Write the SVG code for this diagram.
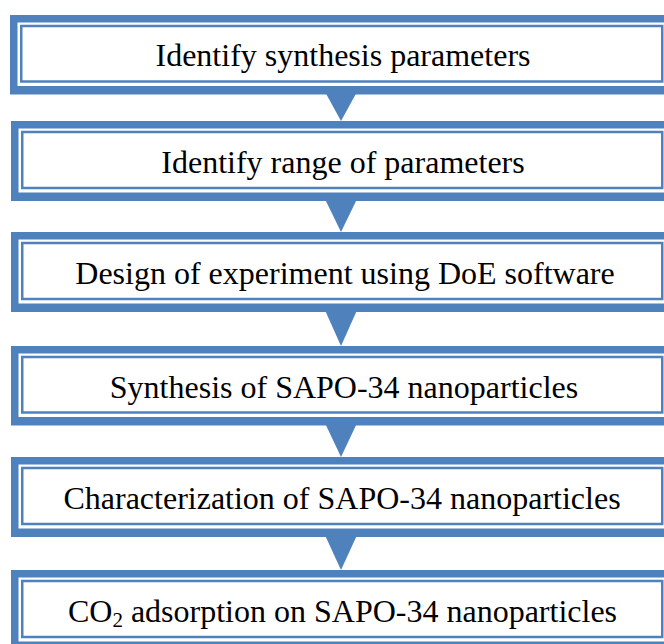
<svg xmlns="http://www.w3.org/2000/svg" width="664" height="644" viewBox="0 0 664 644">
<style>
.outer{fill:#4F81BD}
.gap{fill:#FFFFFF}
.inner{fill:#FFFFFF;stroke:#4F81BD;stroke-width:2.5}
.lbl{font-family:"Liberation Serif","Times New Roman",serif;font-size:32px;fill:#000;text-anchor:middle}
.arrow{fill:#4F81BD}
</style>
<rect width="664" height="644" fill="#FFFFFF"/>
<g id="connectors">
<polygon class="arrow" points="324,90 358,90 341,121"/>
<polygon class="arrow" points="324,197 358,197 341,232"/>
<polygon class="arrow" points="324,308 358,308 341,346"/>
<polygon class="arrow" points="324,421 358,421 341,457"/>
<polygon class="arrow" points="324,533 358,533 341,570"/>
</g>
<g id="node1">
<rect class="outer" x="10" y="15" width="700" height="79.5"/>
<rect class="gap" x="17.5" y="22.5" width="700" height="63.5"/>
<rect class="inner" x="21.25" y="26" width="641" height="55.5"/>
<text class="lbl" x="343" y="66">Identify synthesis parameters</text>
</g>
<g id="node2">
<rect class="outer" x="11" y="121" width="700" height="80"/>
<rect class="gap" x="18.5" y="128.5" width="700" height="64"/>
<rect class="inner" x="22.25" y="132" width="640" height="56"/>
<text class="lbl" x="343" y="173">Identify range of parameters</text>
</g>
<g id="node3">
<rect class="outer" x="11" y="232" width="700" height="80"/>
<rect class="gap" x="18.5" y="239.5" width="700" height="64"/>
<rect class="inner" x="22.25" y="243" width="640" height="56"/>
<text class="lbl" x="345" y="284">Design of experiment using DoE software</text>
</g>
<g id="node4">
<rect class="outer" x="11" y="346" width="700" height="79.5"/>
<rect class="gap" x="18.5" y="353.5" width="700" height="63.5"/>
<rect class="inner" x="22.25" y="357" width="640" height="55.5"/>
<text class="lbl" x="344" y="398">Synthesis of SAPO-34 nanoparticles</text>
</g>
<g id="node5">
<rect class="outer" x="11" y="457" width="700" height="80"/>
<rect class="gap" x="18.5" y="464.5" width="700" height="64"/>
<rect class="inner" x="22.25" y="468" width="640" height="56"/>
<text class="lbl" x="342" y="509">Characterization of SAPO-34 nanoparticles</text>
</g>
<g id="node6">
<rect class="outer" x="11" y="570" width="700" height="80"/>
<rect class="gap" x="18.5" y="577.5" width="700" height="64"/>
<rect class="inner" x="22.25" y="581" width="640" height="56"/>
<text class="lbl" x="342.5" y="622">CO<tspan font-size="21" dy="5">2</tspan><tspan dy="-5"> adsorption on SAPO-34 nanoparticles</tspan></text>
</g>
</svg>
